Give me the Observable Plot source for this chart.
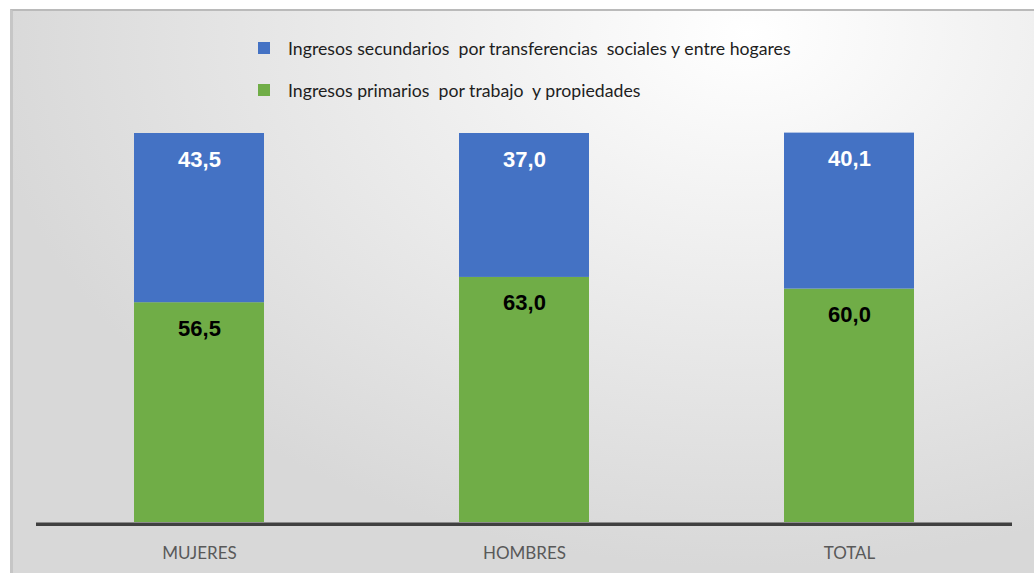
<!DOCTYPE html>
<html>
<head>
<meta charset="utf-8">
<script src="https://cdn.jsdelivr.net/npm/d3@7"></script>
<script src="https://cdn.jsdelivr.net/npm/@observablehq/plot@0.6"></script>
<style>
  html, body { margin: 0; padding: 0; background: #ffffff; }
  body { width: 1034px; height: 573px; position: relative; overflow: hidden; }
  #frame {
    position: absolute; left: 10px; top: 9px; width: 1024px; height: 564px;
    box-sizing: border-box;
    border-top: 2px solid #bababa; border-left: 3px solid #c6c6c6;
    background: radial-gradient(ellipse 75% 95% at 72% 4%, #ffffff 0%, #f3f3f3 30%, #d8d8d8 100%);
  }
  .leg { position: absolute; left: 258px; font-family: Lato, "Open Sans", sans-serif; font-size: 17.7px; color: #1e1e1e; display: flex; align-items: center; height: 20px; white-space: pre; }
  .sw { width: 12px; height: 12px; margin-right: 18px; flex: none; }
  #chart { position: absolute; left: 0; top: 110px; }
</style>
</head>
<body>
<div id="frame"></div>
<div id="legend"></div>
<div id="chart"></div>
<script>
const categories = ["MUJERES", "HOMBRES", "TOTAL"];
const primarios = [56.5, 63.0, 60.0];
const secundarios = [43.5, 37.0, 40.1];
const seriesNames = [
  "Ingresos primarios  por trabajo  y propiedades",
  "Ingresos secundarios  por transferencias  sociales y entre hogares"
];
const seriesColors = ["#70AD47", "#4472C4"];

// legend (blue on top, green below)
const legendOrder = [1, 0];
const legendTops = [38, 80];
const legend = document.getElementById("legend");
legendOrder.forEach((s, k) => {
  const row = document.createElement("div");
  row.className = "leg";
  row.style.top = legendTops[k] + "px";
  const sw = document.createElement("span");
  sw.className = "sw";
  sw.style.background = seriesColors[s];
  const tx = document.createElement("span");
  tx.textContent = seriesNames[s];
  row.appendChild(sw); row.appendChild(tx);
  legend.appendChild(row);
});

const rows = [];
categories.forEach((c, i) => {
  rows.push({cat: c, series: seriesNames[0], value: primarios[i]});
  rows.push({cat: c, series: seriesNames[1], value: secundarios[i]});
});
const fmt = v => v.toFixed(1).replace(".", ",");
const idx = categories.map((c, i) => i);

const chart = Plot.plot({
  width: 1034,
  height: 463,
  marginLeft: 36,
  marginRight: 22,
  marginTop: 23,
  marginBottom: 51,
  style: {background: "transparent", fontFamily: "Lato, 'Open Sans', sans-serif"},
  x: {domain: categories, paddingInner: 0.6, paddingOuter: 0.3, label: null},
  y: {domain: [0, 100], axis: null},
  color: {domain: seriesNames, range: seriesColors},
  marks: [
    Plot.barY(rows, Plot.stackY({x: "cat", y: "value", fill: "series", order: seriesNames})),
    Plot.ruleY([0], {stroke: "#404040", strokeWidth: 3.5, dy: 1.8}),
    Plot.text(idx, {
      x: i => categories[i], y: i => primarios[i] + secundarios[i],
      text: i => fmt(secundarios[i]), dy: 26, fill: "white",
      fontSize: 22, fontWeight: "bold", fontFamily: "'Liberation Sans', Arial, sans-serif",
      letterSpacing: "-0.5px"
    }),
    Plot.text(idx, {
      x: i => categories[i], y: i => primarios[i],
      text: i => fmt(primarios[i]), dy: 26, fill: "black",
      fontSize: 22, fontWeight: "bold", fontFamily: "'Liberation Sans', Arial, sans-serif",
      letterSpacing: "-0.5px"
    }),
    Plot.axisX({tickSize: 0, tickPadding: 24, fontSize: 17, color: "#595959", label: null})
  ]
});
document.getElementById("chart").appendChild(chart);
</script>
</body>
</html>
